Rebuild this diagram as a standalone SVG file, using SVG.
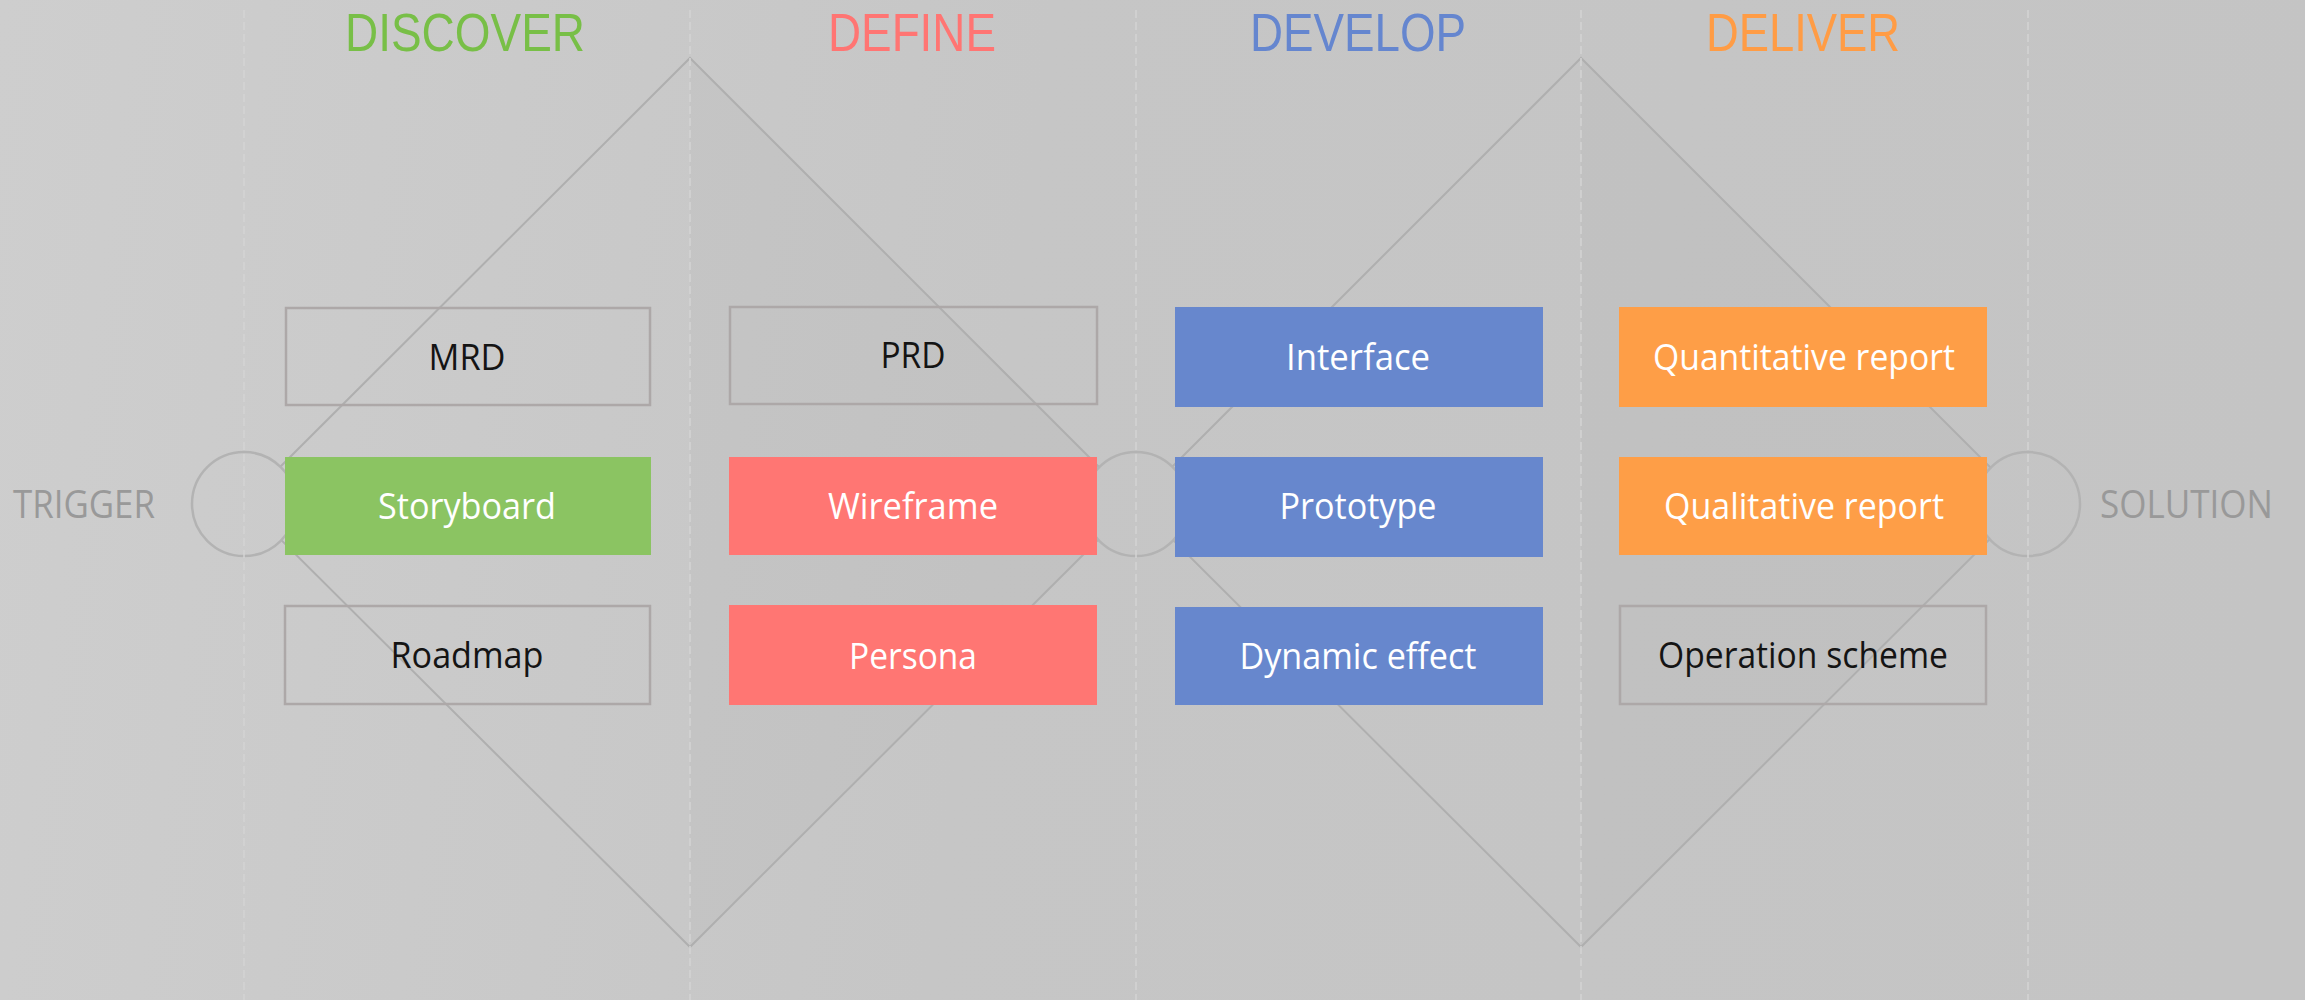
<svg xmlns="http://www.w3.org/2000/svg" width="2305" height="1000" viewBox="0 0 2305 1000">
  <defs>
    <linearGradient id="bg" gradientUnits="userSpaceOnUse" x1="0" y1="0" x2="2305" y2="300">
      <stop offset="0" stop-color="#cecece"/>
      <stop offset="0.45" stop-color="#c6c6c6"/>
      <stop offset="1" stop-color="#c4c4c4"/>
    </linearGradient>
  </defs>
  <style>
    .title { font-family: "Liberation Sans", Arial, sans-serif; font-size: 54px; text-anchor: middle; }
    .lbl { font-family: "Open Sans", "Noto Sans", sans-serif; font-size: 36px; text-anchor: middle; }
    .dark { fill: #141414; }
    .light { fill: #ffffff; }
    .side { font-family: "Open Sans", "Noto Sans", sans-serif; font-size: 38px; fill: #999999; }
    .outline { fill: none; stroke: #ada8a8; stroke-width: 2.5; }
    .diamond { fill: none; stroke: #afafaf; stroke-width: 2; }
    .shade { fill: #000000; fill-opacity: 0.02; }
    .ring { fill: url(#bg); stroke: #b3b3b3; stroke-width: 2.5; }
    .dash { stroke: #d3d3d3; stroke-width: 1.5; stroke-dasharray: 8 4; }
    .green { fill: #8bc462; }
    .red { fill: #ff7673; }
    .blue { fill: #6787cd; }
    .orange { fill: #fe9e47; }
  </style>

  <rect x="0" y="0" width="2305" height="1000" fill="url(#bg)"/>

  <g id="diamonds">
    <polygon class="shade" points="690,58 1135,503 690,947"/>
    <polygon class="shade" points="1581,58 2026,503 1581,947"/>
    <polygon class="diamond" points="690,58 1135,503 690,947 244,503"/>
    <polygon class="diamond" points="1581,58 2026,503 1581,947 1136,503"/>
  </g>

  <g id="connectors">
    <circle class="ring" cx="244" cy="504" r="52"/>
    <circle class="ring" cx="1136" cy="504" r="52"/>
    <circle class="ring" cx="2028" cy="504" r="52"/>
    <line class="dash" x1="244" y1="10" x2="244" y2="1000"/>
    <line class="dash" x1="690" y1="10" x2="690" y2="1000"/>
    <line class="dash" x1="1136" y1="10" x2="1136" y2="1000"/>
    <line class="dash" x1="1581" y1="10" x2="1581" y2="1000"/>
    <line class="dash" x1="2028" y1="10" x2="2028" y2="1000"/>
  </g>

  <g id="titles">
    <text class="title" x="465" y="51" fill="#78bf47" textLength="240" lengthAdjust="spacingAndGlyphs">DISCOVER</text>
    <text class="title" x="912" y="51" fill="#ff7573" textLength="168" lengthAdjust="spacingAndGlyphs">DEFINE</text>
    <text class="title" x="1358" y="51" fill="#6586cf" textLength="216" lengthAdjust="spacingAndGlyphs">DEVELOP</text>
    <text class="title" x="1803" y="51" fill="#ff9c45" textLength="194" lengthAdjust="spacingAndGlyphs">DELIVER</text>
  </g>

  <g id="trigger"><text class="side" x="13" y="518" textLength="142" lengthAdjust="spacingAndGlyphs">TRIGGER</text></g>
  <g id="solution"><text class="side" x="2100" y="518" textLength="173" lengthAdjust="spacingAndGlyphs">SOLUTION</text></g>

  <g id="mrd"><rect class="outline" x="286" y="308" width="364" height="97"/><text class="lbl dark" x="467" y="370" textLength="77" lengthAdjust="spacingAndGlyphs">MRD</text></g>
  <g id="storyboard"><rect class="green" x="285" y="457" width="366" height="98"/><text class="lbl light" x="467" y="519" textLength="178" lengthAdjust="spacingAndGlyphs">Storyboard</text></g>
  <g id="roadmap"><rect class="outline" x="285" y="606" width="365" height="98"/><text class="lbl dark" x="467" y="668" textLength="153" lengthAdjust="spacingAndGlyphs">Roadmap</text></g>

  <g id="prd"><rect class="outline" x="730" y="307" width="367" height="97"/><text class="lbl dark" x="913" y="368" textLength="65" lengthAdjust="spacingAndGlyphs">PRD</text></g>
  <g id="wireframe"><rect class="red" x="729" y="457" width="368" height="98"/><text class="lbl light" x="913" y="519" textLength="170" lengthAdjust="spacingAndGlyphs">Wireframe</text></g>
  <g id="persona"><rect class="red" x="729" y="605" width="368" height="100"/><text class="lbl light" x="913" y="669" textLength="128" lengthAdjust="spacingAndGlyphs">Persona</text></g>

  <g id="interface"><rect class="blue" x="1175" y="307" width="368" height="100"/><text class="lbl light" x="1358" y="370" textLength="144" lengthAdjust="spacingAndGlyphs">Interface</text></g>
  <g id="prototype"><rect class="blue" x="1175" y="457" width="368" height="100"/><text class="lbl light" x="1358" y="519" textLength="157" lengthAdjust="spacingAndGlyphs">Prototype</text></g>
  <g id="dynamic-effect"><rect class="blue" x="1175" y="607" width="368" height="98"/><text class="lbl light" x="1358" y="669" textLength="237" lengthAdjust="spacingAndGlyphs">Dynamic effect</text></g>

  <g id="quantitative-report"><rect class="orange" x="1619" y="307" width="368" height="100"/><text class="lbl light" x="1804" y="370" textLength="302" lengthAdjust="spacingAndGlyphs">Quantitative report</text></g>
  <g id="qualitative-report"><rect class="orange" x="1619" y="457" width="368" height="98"/><text class="lbl light" x="1804" y="519" textLength="280" lengthAdjust="spacingAndGlyphs">Qualitative report</text></g>
  <g id="operation-scheme"><rect class="outline" x="1620" y="606" width="366" height="98"/><text class="lbl dark" x="1803" y="668" textLength="290" lengthAdjust="spacingAndGlyphs">Operation scheme</text></g>
</svg>
